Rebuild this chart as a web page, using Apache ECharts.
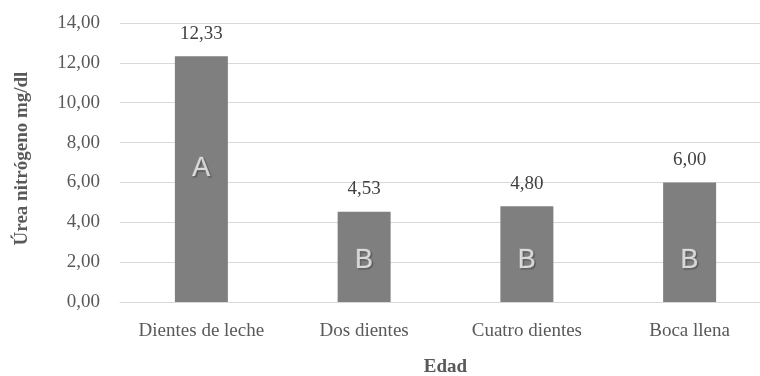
<!DOCTYPE html>
<html>
<head>
<meta charset="utf-8">
<script src="https://cdn.jsdelivr.net/npm/echarts@6/dist/echarts.min.js"></script>
<style>
  html, body { margin: 0; padding: 0; background: #ffffff; }
  #chart { width: 760px; height: 376px; }
</style>
</head>
<body>
<div id="chart"></div>
<script>
// Urea nitrogen by age group
const categories = ['Dientes de leche', 'Dos dientes', 'Cuatro dientes', 'Boca llena'];
const ureaValues = [12.33, 4.53, 4.80, 6.00];
// Significance letters and the axis value where each one sits
const groupLetters = ['A', 'B', 'B', 'B'];
const letterLevels = [6.7, 2.1, 2.1, 2.1];

const fmt = v => Number(v).toFixed(2).replace('.', ',');
const serif = 'Liberation Serif';

const chart = echarts.init(document.getElementById('chart'));
chart.setOption({
  animation: false,
  grid: { left: 120, right: -11, top: 23, bottom: 74, outerBoundsMode: 'none', containLabel: false },
  xAxis: {
    type: 'category',
    data: categories,
    name: 'Edad',
    nameLocation: 'middle',
    nameGap: 56,
    nameTextStyle: { fontFamily: serif, fontSize: 19, fontWeight: 'bold', color: '#595959' },
    axisLine: { lineStyle: { color: '#d9d9d9', width: 1 } },
    axisTick: { show: false },
    axisLabel: { interval: 0, fontFamily: serif, fontSize: 19, color: '#595959', margin: 20 }
  },
  yAxis: {
    type: 'value',
    min: 0, max: 14, interval: 2,
    name: 'Úrea nitrógeno mg/dl',
    nameLocation: 'middle',
    nameGap: 88,
    nameRotate: 90,
    nameTextStyle: { fontFamily: serif, fontSize: 19, fontWeight: 'bold', color: '#595959', padding: [0, 0, 0, 8] },
    axisLine: { show: false },
    axisTick: { show: false },
    splitLine: { lineStyle: { color: '#d9d9d9', width: 1 } },
    axisLabel: { fontFamily: serif, fontSize: 19, color: '#595959', margin: 20, formatter: fmt }
  },
  series: [
    {
      type: 'bar',
      data: ureaValues,
      barWidth: 53,
      itemStyle: { color: '#7f7f7f' },
      label: {
        show: true,
        position: 'top',
        distance: 13,
        fontFamily: serif,
        fontSize: 19,
        color: '#404040',
        formatter: p => fmt(p.value)
      }
    },
    {
      type: 'scatter',
      data: letterLevels.map((v, i) => ({ value: v, letter: groupLetters[i] })),
      symbolSize: 0,
      silent: true,
      z: 5,
      label: {
        show: true,
        position: 'inside',
        formatter: p => p.data.letter,
        fontFamily: 'Liberation Sans',
        fontSize: 27,
        color: '#f4f4f4',
        textBorderColor: '#a6a6a6',
        textBorderWidth: 1.2,
        textShadowColor: 'rgba(60,60,60,0.6)',
        textShadowBlur: 1,
        textShadowOffsetX: 1,
        textShadowOffsetY: 1
      }
    }
  ]
});
</script>
</body>
</html>
